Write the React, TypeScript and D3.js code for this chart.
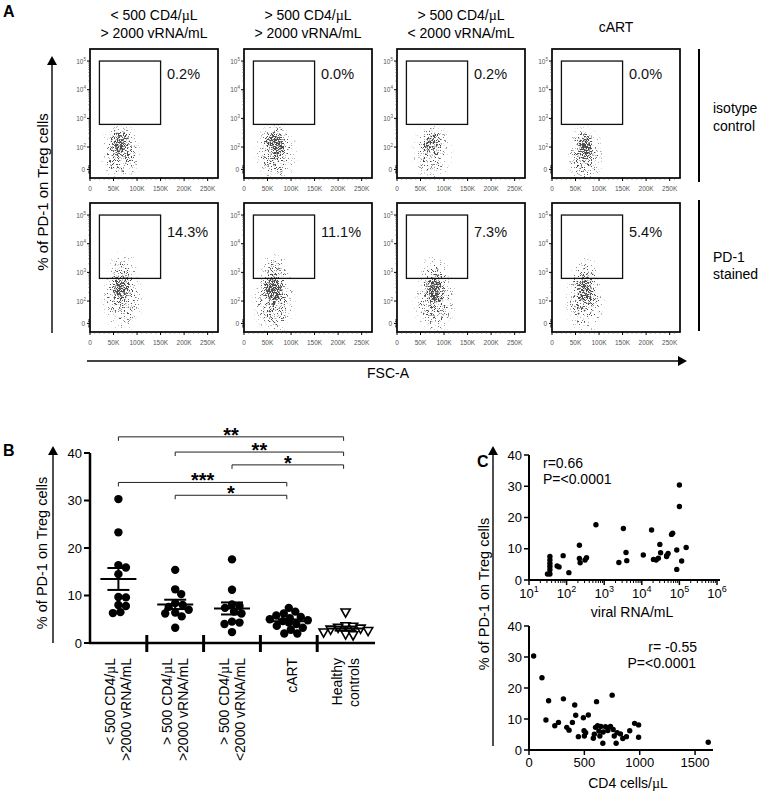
import React from "react";
import * as d3 from "d3";

const FONT = "'Liberation Sans', Arial, Helvetica, sans-serif";
const SERIF = "'Liberation Serif', 'DejaVu Serif', serif";

// ---------------- Panel A data ----------------
const flowTitles: string[][] = [
  ["< 500 CD4/µL", "> 2000 vRNA/mL"],
  ["> 500 CD4/µL", "> 2000 vRNA/mL"],
  ["> 500 CD4/µL", "< 2000 vRNA/mL"],
  ["cART"],
];
const isotypePct = ["0.2%", "0.0%", "0.2%", "0.0%"];
const stainedPct = ["14.3%", "11.1%", "7.3%", "5.4%"];
const rowLabels = [["isotype", "control"], ["PD-1", "stained"]];
const fscTicks = [0, 50000, 100000, 150000, 200000, 250000];
const fscTickLabels = ["0", "50K", "100K", "150K", "200K", "250K"];
const pd1Decades = [2, 3, 4, 5];
const pd1ZeroDecade = 1.22;
const gateFsc = [20000, 150000];
const gateDecade = [2.79, 5.0];
// cell cloud blobs: [FSC centre, log10 PD-1 centre, FSC radius, decade radius, density]
const isotypeClouds: number[][][] = [
  [[62000, 2.2, 24000, 0.5, 0.62], [66000, 1.8, 48000, 1.15, 0.5]],
  [[66000, 2.2, 26000, 0.55, 0.68], [68000, 1.8, 50000, 1.15, 0.52]],
  [[74000, 2.2, 24000, 0.5, 0.5], [75000, 1.8, 48000, 1.15, 0.42]],
  [[70000, 2.05, 22000, 0.55, 0.62], [70000, 1.7, 44000, 1.15, 0.48]],
];
const stainedClouds: number[][][] = [
  [[66000, 2.45, 24000, 0.5, 0.58], [68000, 2.1, 48000, 1.35, 0.48], [70000, 3.1, 38000, 0.75, 0.26]],
  [[62000, 2.4, 26000, 0.55, 0.72], [64000, 2.0, 50000, 1.35, 0.52], [66000, 3.1, 38000, 0.75, 0.28]],
  [[80000, 2.4, 26000, 0.55, 0.66], [80000, 2.0, 50000, 1.35, 0.5], [80000, 3.0, 38000, 0.75, 0.25]],
  [[70000, 2.4, 22000, 0.55, 0.62], [70000, 2.0, 46000, 1.35, 0.48], [70000, 3.0, 36000, 0.75, 0.24]],
];

// ---------------- Panel B data ----------------
const groupLabels: string[][] = [
  ["< 500 CD4/µL", ">2000 vRNA/mL"],
  ["> 500 CD4/µL", ">2000 vRNA/mL"],
  ["> 500 CD4/µL", "<2000 vRNA/mL"],
  ["cART"],
  ["Healthy", "controls"],
];
const grpLowCD4 = [30.3, 23.3, 16.4, 15.9, 14.5, 9.7, 9.6, 8.0, 7.8, 6.3, 6.5];
const grpHighCD4HighVL = [15.4, 11.3, 10.3, 8.4, 8.0, 7.6, 7.0, 6.4, 6.2, 5.6, 3.2];
const grpHighCD4LowVL = [17.6, 11.2, 8.1, 7.8, 7.4, 6.6, 6.2, 4.5, 4.3, 4.0, 2.3];
const grpCART = [7.4, 6.6, 6.2, 5.8, 5.5, 5.2, 5.0, 4.8, 4.6, 4.3, 4.0, 3.6, 3.2, 2.8, 2.0, 2.0];
const grpHealthy = [6.4, 3.5, 3.4, 3.2, 3.0, 2.8, 2.5, 2.2, 1.8, 1.6];
const bTicks = [0, 10, 20, 30, 40];
const compFrom = [0, 1, 2, 0, 1];
const compTo = [4, 4, 4, 3, 3];
const compStars = ["**", "**", "*", "***", "*"];
const compLevel = [43.4, 40.2, 37.5, 33.8, 31.1];

// ---------------- Panel C data ----------------
const vrna = [31, 36, 36, 36, 36, 36, 36, 56, 63, 81, 115, 219, 219, 229, 309, 339, 603, 2455, 3236, 3802, 3981, 10965, 18197, 20417, 23988, 27542, 30200, 31623, 45709, 45709, 50119, 61660, 66069, 85114, 85114, 100000, 100000, 114815, 151356];
const pd1ByVrna = [1.9, 1.9, 7.5, 6.4, 5.3, 4.3, 3.3, 4.5, 4.2, 7.8, 2.35, 11.1, 6.9, 5.5, 6.4, 7.1, 17.7, 5.6, 16.5, 8.8, 6.2, 8.0, 16.0, 6.6, 6.4, 7.0, 11.4, 8.7, 7.8, 7.5, 8.5, 14.6, 15.0, 9.6, 3.4, 30.4, 23.5, 6.1, 10.4];
const cd4 = [42, 117, 177, 153, 233, 266, 311, 341, 362, 392, 413, 422, 446, 491, 497, 500, 512, 536, 581, 590, 601, 610, 620, 631, 640, 649, 670, 667, 691, 712, 736, 751, 760, 770, 787, 796, 826, 847, 880, 910, 954, 990, 990, 1619];
const pd1ByCd4 = [30.3, 23.3, 15.9, 9.7, 7.8, 8.9, 16.5, 7.3, 6.4, 8.9, 14.5, 11.2, 4.3, 10.4, 6.2, 4.5, 5.6, 11.3, 3.8, 5.1, 7.3, 15.6, 7.8, 6.1, 4.5, 7.6, 5.8, 2.2, 7.5, 6.3, 7.6, 17.7, 6.6, 4.5, 2.2, 5.6, 5.2, 3.7, 4.3, 6.2, 8.6, 8.1, 4.1, 2.5];
const cTicks = [0, 10, 20, 30, 40];
const vrnaExponents = [1, 2, 3, 4, 5, 6];
const cd4Ticks = [0, 500, 1000, 1500];

// ------------------------------------------------
function MuText({ text }: { text: string }) {
  const parts = text.split("µ");
  return (
    <>
      {parts.map((p, i) => (
        <React.Fragment key={i}>
          {i > 0 && <tspan fontFamily={SERIF}>µ</tspan>}
          {p}
        </React.Fragment>
      ))}
    </>
  );
}

function Arrow({ x1, y1, x2, y2, color = "#222", width = 1.6 }: any) {
  const vertical = x1 === x2;
  const hl = 9, hw = 5;
  if (vertical) {
    const dir = y2 < y1 ? 1 : -1;
    const head = `${x2},${y2} ${x2 - hw},${y2 + dir * hl} ${x2 + hw},${y2 + dir * hl}`;
    return (
      <g>
        <line x1={x1} y1={y1} x2={x2} y2={y2 + dir * (hl - 1)} stroke={color} strokeWidth={width} />
        <polygon points={head} fill="#000" />
      </g>
    );
  }
  const dir = x2 > x1 ? -1 : 1;
  const head = `${x2},${y2} ${x2 + dir * hl},${y2 - hw} ${x2 + dir * hl},${y2 + hw}`;
  return (
    <g>
      <line x1={x1} y1={y1} x2={x2 + dir * (hl - 1)} y2={y2} stroke={color} strokeWidth={width} />
      <polygon points={head} fill="#000" />
    </g>
  );
}

function FlowPlot({ x0, y0, blobs, pct, pctDy, fid }: any) {
  const w = 128, h = 129;
  const xs = d3.scaleLinear().domain([0, 272000]).range([x0, x0 + w]);
  const ys = d3.scaleLinear().domain([0.92, 5.42]).range([y0 + h, y0]);
  const minorY: number[] = [];
  for (let d = 2; d < 5; d++) for (let k = 2; k <= 9; k++) minorY.push(d + Math.log10(k));
  const zeroTicks = [-0.12, -0.06, 0.06, 0.12].map((o) => pd1ZeroDecade + o);
  const minorX = d3.range(10000, 270000, 10000).filter((v) => v % 50000 !== 0);
  const ppd = h / 4.5;
  return (
    <g>
      <clipPath id={`clip${fid}`}>
        <rect x={x0 + 1} y={y0 + 1} width={w - 2} height={h - 2} />
      </clipPath>
      <g clipPath={`url(#clip${fid})`}>
        <g filter={`url(#speckle${fid})`}>
          {blobs.map((b: number[], i: number) => (
            <ellipse
              key={i}
              cx={xs(b[0])}
              cy={ys(b[1])}
              rx={xs(b[2]) - xs(0)}
              ry={b[3] * ppd}
              fill="url(#blobGrad)"
              fillOpacity={b[4]}
            />
          ))}
        </g>
      </g>
      <rect
        x={xs(gateFsc[0])}
        y={ys(gateDecade[1])}
        width={xs(gateFsc[1]) - xs(gateFsc[0])}
        height={ys(gateDecade[0]) - ys(gateDecade[1])}
        fill="none"
        stroke="#111"
        strokeWidth={1.3}
      />
      <text x={x0 + 77} y={y0 + pctDy} fontSize={14.5} fill="#111">{pct}</text>
      <rect x={x0} y={y0} width={w} height={h} fill="none" stroke="#000" strokeWidth={1.7} />
      {pd1Decades.map((d) => (
        <g key={d}>
          <line x1={x0 - 3} x2={x0} y1={ys(d)} y2={ys(d)} stroke="#000" strokeWidth={1} />
          <text x={x0 - 4} y={ys(d) + 2.5} textAnchor="end" fontSize={6.5} fill="#555">
            10<tspan dy={-3} fontSize={4.5}>{d}</tspan>
          </text>
        </g>
      ))}
      {minorY.map((d, i) => (
        <line key={i} x1={x0 - 1.5} x2={x0} y1={ys(d)} y2={ys(d)} stroke="#333" strokeWidth={0.7} />
      ))}
      <line x1={x0 - 3} x2={x0} y1={ys(pd1ZeroDecade)} y2={ys(pd1ZeroDecade)} stroke="#000" strokeWidth={1} />
      {zeroTicks.map((d, i) => (
        <line key={i} x1={x0 - 2} x2={x0} y1={ys(d)} y2={ys(d)} stroke="#000" strokeWidth={0.8} />
      ))}
      <text x={x0 - 5} y={ys(pd1ZeroDecade) + 2.5} textAnchor="end" fontSize={6.5} fill="#555">0</text>
      {fscTicks.map((v, i) => (
        <g key={v}>
          <line x1={xs(v)} x2={xs(v)} y1={y0 + h} y2={y0 + h + 3} stroke="#000" strokeWidth={1} />
          <text x={xs(v)} y={y0 + h + 12.5} textAnchor="middle" fontSize={6.5} fill="#555">{fscTickLabels[i]}</text>
        </g>
      ))}
      {minorX.map((v) => (
        <line key={v} x1={xs(v)} x2={xs(v)} y1={y0 + h} y2={y0 + h + 1.5} stroke="#333" strokeWidth={0.7} />
      ))}
    </g>
  );
}

function PanelA() {
  const xLefts = [90, 244, 397, 552];
  const rowTops = [49, 203];
  return (
    <g>
      <text x={3} y={17} fontSize={16} fontWeight="bold">A</text>
      {flowTitles.map((lines, i) => {
        const cx = xLefts[i] + 64;
        const ys = lines.length === 2 ? [20, 38] : [32];
        return lines.map((t, j) => (
          <text key={`${i}-${j}`} x={cx} y={ys[j]} textAnchor="middle" fontSize={14}>
            <MuText text={t} />
          </text>
        ));
      })}
      {xLefts.map((x, i) => (
        <FlowPlot key={`i${i}`} x0={x} y0={rowTops[0]} blobs={isotypeClouds[i]} pct={isotypePct[i]} pctDy={30} fid={i} />
      ))}
      {xLefts.map((x, i) => (
        <FlowPlot key={`s${i}`} x0={x} y0={rowTops[1]} blobs={stainedClouds[i]} pct={stainedPct[i]} pctDy={34} fid={i + 4} />
      ))}
      <line x1={699} x2={699} y1={49} y2={182} stroke="#000" strokeWidth={2} />
      <line x1={699} x2={699} y1={200} y2={331} stroke="#000" strokeWidth={2} />
      <text x={713} y={113} fontSize={14}>{rowLabels[0][0]}</text>
      <text x={713} y={131} fontSize={14}>{rowLabels[0][1]}</text>
      <text x={713} y={262} fontSize={14}>{rowLabels[1][0]}</text>
      <text x={713} y={279} fontSize={14}>{rowLabels[1][1]}</text>
      <Arrow x1={52} y1={333} x2={52} y2={56} />
      <text x={48} y={192} transform="rotate(-90 48 192)" textAnchor="middle" fontSize={15}>
        % of PD-1 on Treg cells
      </text>
      <Arrow x1={87} y1={361} x2={687} y2={361} color="#444" width={2} />
      <text x={367} y={378} fontSize={14}>FSC-A</text>
    </g>
  );
}

function beeswarm(values: number[], yScale: (v: number) => number, r: number) {
  const placed: { x: number; y: number }[] = [];
  const order = values.map((_, i) => i).sort((a, b) => values[b] - values[a]);
  const out: number[] = new Array(values.length).fill(0);
  for (const i of order) {
    const y = yScale(values[i]);
    let best = 0;
    for (let s = 0; s < 90; s++) {
      const off = s === 0 ? 0 : (s % 2 ? 1 : -1) * Math.ceil(s / 2) * 0.5;
      if (placed.every((p) => Math.hypot(p.x - off, p.y - y) >= 2 * r * 0.88)) {
        best = off;
        break;
      }
    }
    placed.push({ x: best, y });
    out[i] = best;
  }
  return out;
}

function PanelB() {
  const groups = [grpLowCD4, grpHighCD4HighVL, grpHighCD4LowVL, grpCART, grpHealthy];
  const bx = d3.scaleBand<number>().domain(d3.range(5)).range([90, 374]);
  const cx = (i: number) => (bx(i) as number) + bx.bandwidth() / 2;
  const by = d3.scaleLinear().domain([0, 40]).range([643, 453]);
  const r = 4.2;
  return (
    <g>
      <text x={3} y={456} fontSize={16} fontWeight="bold">B</text>
      <Arrow x1={53} y1={643} x2={53} y2={446} />
      <text x={47} y={553} transform="rotate(-90 47 553)" textAnchor="middle" fontSize={14.5}>
        % of PD-1 on Treg cells
      </text>
      <line x1={90} x2={90} y1={by(40)} y2={by(0)} stroke="#000" strokeWidth={2.5} />
      <line x1={89} x2={375} y1={by(0)} y2={by(0)} stroke="#000" strokeWidth={2.5} />
      {bTicks.map((t) => (
        <g key={t}>
          <line x1={84} x2={90} y1={by(t)} y2={by(t)} stroke="#000" strokeWidth={2} />
          <text x={82} y={by(t) + 4.5} textAnchor="end" fontSize={13}>{t}</text>
        </g>
      ))}
      {d3.range(1, 5).map((i) => (
        <line key={i} x1={bx(i)} x2={bx(i)} y1={by(0) - 8} y2={by(0) + 9} stroke="#000" strokeWidth={3} />
      ))}
      {groups.map((vals, gi) => {
        const offs = beeswarm(vals, by, r);
        const c = cx(gi);
        return vals.map((v, j) => {
          const x = c + offs[j];
          const y = by(v);
          if (gi === 4) {
            return (
              <polygon
                key={`${gi}-${j}`}
                points={`${x - 4.6},${y - 3.6} ${x + 4.6},${y - 3.6} ${x},${y + 4.6}`}
                fill="#fff"
                stroke="#000"
                strokeWidth={1.6}
              />
            );
          }
          return <circle key={`${gi}-${j}`} cx={x} cy={y} r={r} fill="#000" />;
        });
      })}
      {groups.map((vals, gi) => {
        const m = d3.mean(vals) as number;
        const sem = (d3.deviation(vals) as number) / Math.sqrt(vals.length);
        const c = cx(gi);
        return (
          <g key={gi} stroke="#000" strokeWidth={2}>
            <line x1={c - 18} x2={c + 18} y1={by(m)} y2={by(m)} />
            <line x1={c} x2={c} y1={by(m - sem)} y2={by(m + sem)} />
            <line x1={c - 11} x2={c + 11} y1={by(m + sem)} y2={by(m + sem)} />
            <line x1={c - 11} x2={c + 11} y1={by(m - sem)} y2={by(m - sem)} />
          </g>
        );
      })}
      {compFrom.map((f, i) => {
        const x1 = cx(f), x2 = cx(compTo[i]) - 2;
        const y = by(compLevel[i]);
        return (
          <g key={i}>
            <path d={`M${x1},${y + 4}V${y}H${x2}V${y + 4}`} fill="none" stroke="#222" strokeWidth={1} />
            <text x={(x1 + x2) / 2} y={y + 5} textAnchor="middle" fontSize={20} fontWeight="bold">{compStars[i]}</text>
          </g>
        );
      })}
      {groupLabels.map((lines, gi) => {
        const c = cx(gi);
        const bases = lines.length === 2 ? [c - 3.5, c + 13] : [c + 8];
        return lines.map((t, j) => (
          <text
            key={`${gi}-${j}`}
            x={bases[j]}
            y={658}
            transform={`rotate(-90 ${bases[j]} 658)`}
            textAnchor="end"
            fontSize={14}
          >
            <MuText text={t} />
          </text>
        ));
      })}
    </g>
  );
}

function PanelC() {
  const xUp = d3.scaleLog().domain([10, 1e6]).range([529, 717]);
  const yUp = d3.scaleLinear().domain([0, 40]).range([580, 455]);
  const xLo = d3.scaleLinear().domain([0, 1662]).range([529, 713]);
  const yLo = d3.scaleLinear().domain([0, 40]).range([750, 626]);
  const minorLog: number[] = [];
  for (let e = 1; e < 6; e++) for (let k = 2; k <= 9; k++) minorLog.push(k * Math.pow(10, e));
  const r = 2.7;
  return (
    <g>
      <text x={477} y={467} fontSize={16} fontWeight="bold">C</text>
      <Arrow x1={493} y1={746} x2={493} y2={446} />
      <text x={489} y={594} transform="rotate(-90 489 594)" textAnchor="middle" fontSize={14.5}>
        % of PD-1 on Treg cells
      </text>
      <line x1={529} x2={529} y1={yUp(40)} y2={yUp(0)} stroke="#000" strokeWidth={2} />
      <line x1={528} x2={720} y1={yUp(0)} y2={yUp(0)} stroke="#000" strokeWidth={2} />
      {cTicks.map((t) => (
        <g key={t}>
          <line x1={524} x2={529} y1={yUp(t)} y2={yUp(t)} stroke="#000" strokeWidth={1.5} />
          <text x={522} y={yUp(t) + 4.5} textAnchor="end" fontSize={13}>{t}</text>
        </g>
      ))}
      {vrnaExponents.map((e) => (
        <g key={e}>
          <line x1={xUp(Math.pow(10, e))} x2={xUp(Math.pow(10, e))} y1={yUp(0)} y2={yUp(0) + 5} stroke="#000" strokeWidth={1.5} />
          <text x={xUp(Math.pow(10, e))} y={598} textAnchor="middle" fontSize={13}>
            10<tspan dy={-6} fontSize={9}>{e}</tspan>
          </text>
        </g>
      ))}
      {minorLog.map((v, i) => (
        <line key={i} x1={xUp(v)} x2={xUp(v)} y1={yUp(0)} y2={yUp(0) + 3} stroke="#000" strokeWidth={1} />
      ))}
      {vrna.map((v, i) => (
        <circle key={i} cx={xUp(v)} cy={yUp(pd1ByVrna[i])} r={r} fill="#000" />
      ))}
      <text x={543} y={468} fontSize={14}>r=0.66</text>
      <text x={543} y={484} fontSize={14}>P=&lt;0.0001</text>
      <text x={632} y={617} textAnchor="middle" fontSize={14}>viral RNA/mL</text>

      <line x1={529} x2={529} y1={yLo(40)} y2={yLo(0)} stroke="#000" strokeWidth={2} />
      <line x1={528} x2={713} y1={yLo(0)} y2={yLo(0)} stroke="#000" strokeWidth={2} />
      {cTicks.map((t) => (
        <g key={t}>
          <line x1={524} x2={529} y1={yLo(t)} y2={yLo(t)} stroke="#000" strokeWidth={1.5} />
          <text x={522} y={yLo(t) + 4.5} textAnchor="end" fontSize={13}>{t}</text>
        </g>
      ))}
      {cd4Ticks.map((t) => (
        <g key={t}>
          <line x1={xLo(t)} x2={xLo(t)} y1={yLo(0)} y2={yLo(0) + 5} stroke="#000" strokeWidth={1.5} />
          <text x={xLo(t)} y={767} textAnchor="middle" fontSize={13}>{t}</text>
        </g>
      ))}
      {cd4.map((v, i) => (
        <circle key={i} cx={xLo(v)} cy={yLo(pd1ByCd4[i])} r={r} fill="#000" />
      ))}
      <text x={697} y={652} textAnchor="end" fontSize={14}>r= -0.55</text>
      <text x={696} y={668} textAnchor="end" fontSize={14}>P=&lt;0.0001</text>
      <text x={628} y={788} textAnchor="middle" fontSize={14}>
        <MuText text="CD4 cells/µL" />
      </text>
    </g>
  );
}

export default function App() {
  return (
    <svg
      width={764}
      height={794}
      viewBox="0 0 764 794"
      style={{ position: "absolute", left: 0, top: 0, background: "#fff" }}
      fontFamily={FONT}
    >
      <defs>
        <radialGradient id="blobGrad">
          <stop offset="0" stopColor="#000" stopOpacity={1} />
          <stop offset="0.35" stopColor="#000" stopOpacity={0.8} />
          <stop offset="0.65" stopColor="#000" stopOpacity={0.45} />
          <stop offset="0.85" stopColor="#000" stopOpacity={0.15} />
          <stop offset="1" stopColor="#000" stopOpacity={0} />
        </radialGradient>
        {d3.range(8).map((i) => (
          <filter
            key={i}
            id={`speckle${i}`}
            x="-10%"
            y="-10%"
            width="120%"
            height="120%"
            colorInterpolationFilters="sRGB"
          >
            <feTurbulence type="fractalNoise" baseFrequency="1.7" numOctaves={1} seed={i * 7 + 3} result="noise" />
            <feColorMatrix
              in="noise"
              type="matrix"
              values="0 0 0 0 0  0 0 0 0 0  0 0 0 0 0  2.5 0 0 0 -0.75"
              result="na"
            />
            <feComposite in="SourceAlpha" in2="na" operator="arithmetic" k1={0} k2={1} k3={1} k4={-1} result="sum" />
            <feComponentTransfer in="sum" result="th">
              <feFuncA type="linear" slope={4} intercept={0} />
            </feComponentTransfer>
            <feFlood floodColor="#2a2a2a" floodOpacity={0.85} result="ink" />
            <feComposite in="ink" in2="th" operator="in" />
          </filter>
        ))}
      </defs>
      <rect x={0} y={0} width={764} height={794} fill="#fff" />
      <PanelA />
      <PanelB />
      <PanelC />
    </svg>
  );
}
